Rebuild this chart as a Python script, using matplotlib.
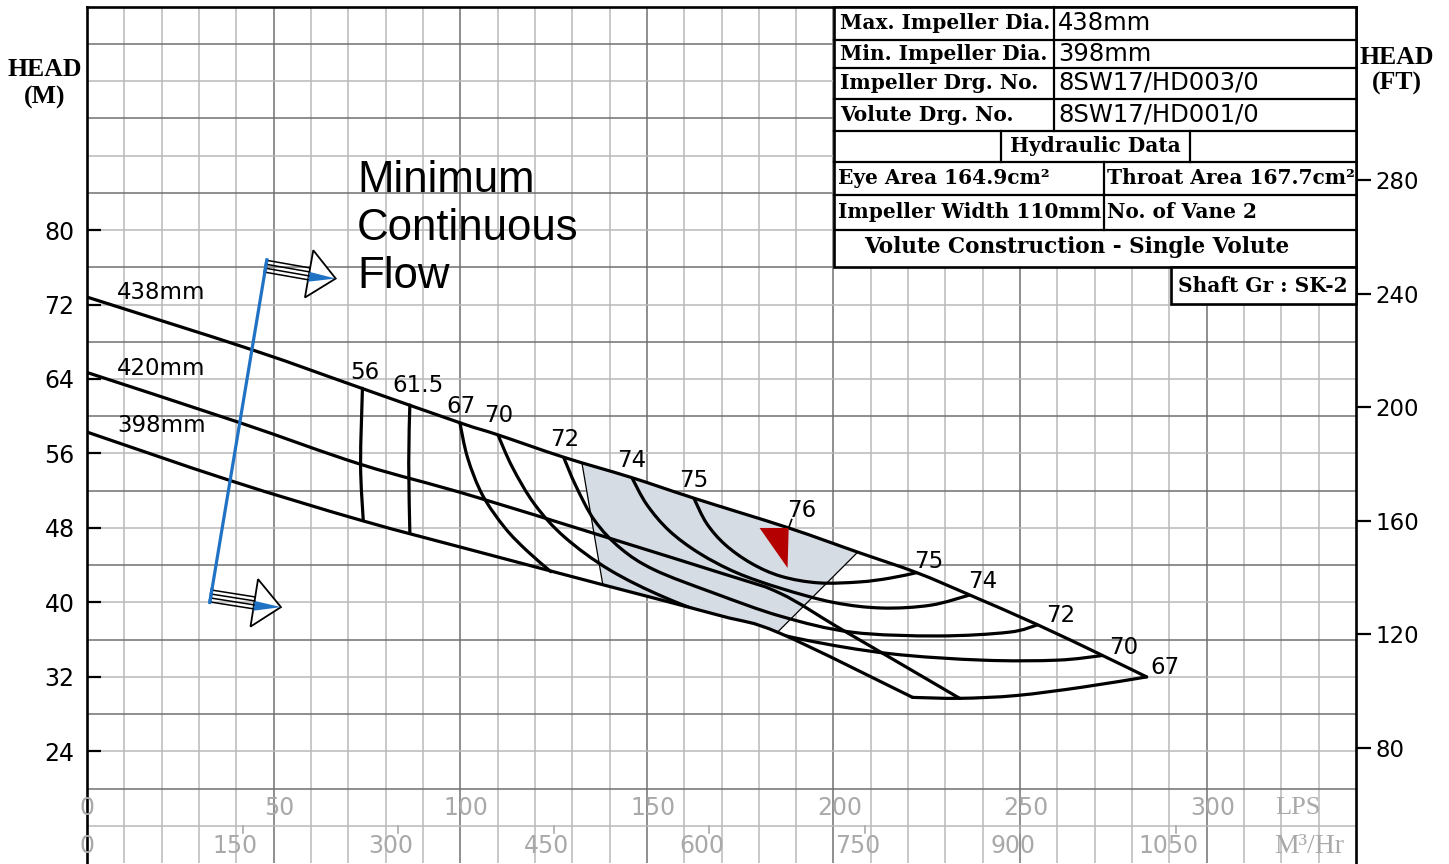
import numpy as np
import matplotlib
matplotlib.use("Agg")
import matplotlib.pyplot as plt
from matplotlib.path import Path
from matplotlib.patches import PathPatch, Polygon, Rectangle

# ---------------- data: flow in LPS, head in m ----------------
q_438 = [0, 44.5, 73.6, 99.9, 110.1, 127.7, 146.0, 162.6, 188.0, 206.5, 222.3, 236.5, 254.7, 272.1, 283.9]
h_438 = [72.8, 67.1, 63.0, 59.3, 58.0, 55.6, 53.4, 51.2, 48.0, 45.4, 43.2, 40.8, 37.6, 34.3, 32.0]
q_420 = [0, 41.0, 73.6, 105.2, 169.5, 185.6, 200.9, 214.2, 233.8]
h_420 = [64.7, 59.3, 54.8, 51.2, 43.2, 41.0, 37.4, 34.3, 29.7]
q_398 = [0, 38.3, 73.6, 105.2, 138.2, 169.5, 185.6, 221.2]
h_398 = [58.3, 53.1, 48.8, 45.4, 41.9, 38.6, 36.7, 29.8]

# iso-efficiency lines (%)
q_e56 = [73.8, 73.3, 74.0]
h_e56 = [63.0, 54.8, 48.9]
q_e615 = [86.5, 86.2, 86.5]
h_e615 = [61.2, 55.0, 47.5]
q_e67a = [99.9, 102, 106, 112, 118, 124.3]
h_e67a = [59.3, 55.5, 51.5, 48.0, 45.5, 43.3]
q_e67b = [221.2, 234, 249, 266.7, 283.9]
h_e67b = [29.8, 29.7, 30.0, 30.9, 32.0]
q_e70 = [110.1, 114, 120, 128, 140, 155, 172, 192, 215, 240, 260, 272.1]
h_e70 = [58.0, 54.5, 50.5, 47.0, 43.5, 40.5, 38.0, 36.0, 34.5, 33.8, 33.8, 34.3]
q_e72 = [127.7, 131, 136, 143, 152, 168, 186, 205, 228, 247, 254.7]
h_e72 = [55.6, 52.5, 48.8, 45.8, 43.5, 41.0, 38.5, 36.8, 36.4, 36.8, 37.6]
q_e74 = [146.0, 150, 156, 164, 174, 186, 200, 213, 226, 236.5]
h_e74 = [53.4, 50.5, 47.7, 45.3, 43.2, 41.5, 40.0, 39.4, 39.7, 40.8]
q_e75 = [162.6, 166, 171, 178, 186, 196, 207, 215, 222.3]
h_e75 = [51.2, 48.5, 46.2, 44.2, 42.8, 42.1, 42.2, 42.6, 43.2]

# best-efficiency zone (shaded) and BEP marker
shade_q = [132.6, 146.0, 162.6, 188.0, 206.5, 185.0, 169.5, 138.2]
shade_h = [55.0, 53.4, 51.2, 48.0, 45.4, 36.8, 38.6, 41.9]
bep_q = [180.2, 188.0, 187.7]
bep_h = [48.0, 48.0, 43.7]

# minimum continuous flow line
mcf_q = [32.9, 48.2]
mcf_h = [40.0, 76.8]

# labels
dia_labels = ["438mm", "420mm", "398mm"]
dia_label_pos = [(8.0, 73.3), (8.0, 65.1), (8.0, 59.0)]
eff_labels = ["56", "61.5", "67", "70", "72", "74", "75", "76", "75", "74", "72", "70", "67"]
eff_label_pos = [(74.4, 64.7), (88.6, 63.3), (100.2, 61.0), (110.3, 60.1), (128.0, 57.5),
                 (146.0, 55.2), (162.6, 53.1), (191.5, 49.9), (225.5, 44.4), (240.0, 42.3),
                 (260.8, 38.6), (277.7, 35.2), (288.9, 33.0)]
lps_ticks = [0, 50, 100, 150, 200, 250, 300]
m3h_ticks = [0, 150, 300, 450, 600, 750, 900, 1050]
left_ticks = [24, 32, 40, 48, 56, 64, 72, 80]
right_ticks = [80, 120, 160, 200, 240, 280]

table_rows = [("Max. Impeller Dia.", "438mm"),
              ("Min. Impeller Dia.", "398mm"),
              ("Impeller Drg. No.", "8SW17/HD003/0"),
              ("Volute Drg. No.", "8SW17/HD001/0")]
hyd_title = "Hydraulic Data"
hyd_cells = [("Eye Area 164.9cm²", "Throat Area 167.7cm²"),
             ("Impeller Width 110mm", "No. of Vane 2")]
volute_text = "Volute Construction - Single Volute"
shaft_text = "Shaft Gr : SK-2"

# ---------------- helpers ----------------
def bez_path(q, h, start_code=Path.MOVETO):
    P = np.column_stack([q, h]).astype(float)
    n = len(P)
    verts = [P[0]]
    codes = [start_code]
    for i in range(n - 1):
        p0 = P[i - 1] if i > 0 else P[i]
        p1, p2 = P[i], P[i + 1]
        p3 = P[i + 2] if i + 2 < n else P[i + 1]
        verts += [p1 + (p2 - p0) / 6.0, p2 - (p3 - p1) / 6.0, p2]
        codes += [Path.CURVE4] * 3
    return verts, codes

W, H = 1449, 864
fig = plt.figure(figsize=(W / 100, H / 100), dpi=100)
ax = fig.add_axes([87 / W, 1 - 863.1 / H, (1356 - 87) / W, (863.1 - 6.6) / H])
ax.set_xlim(0, 340)
ax.set_ylim(12, 104)

# grid
minor_c, major_c = "#b9b9b9", "#707070"
for q in np.arange(10, 340, 10):
    ax.axvline(q, color=major_c if q % 50 == 0 else minor_c, lw=1.1, zorder=1)
for h in np.arange(16, 104, 4):
    ax.axhline(h, color=major_c if (h - 20) % 8 == 0 else minor_c, lw=1.1, zorder=1)

# operating region (for clipping iso-efficiency lines)
v1, c1 = bez_path(q_438, h_438)
v2, c2 = bez_path(q_e67b[::-1], h_e67b[::-1], Path.LINETO)
v3, c3 = bez_path(q_398[::-1], h_398[::-1], Path.LINETO)
region = Path(v1 + v2 + v3 + [v1[0]], c1 + c2 + c3 + [Path.CLOSEPOLY])
clip_patch = PathPatch(region, transform=ax.transData)

# shaded zone
ax.add_patch(Polygon(np.column_stack([shade_q, shade_h]), closed=True,
                     fc="#d5dce4", ec="none", zorder=2))
ax.plot([shade_q[0], shade_q[-1]], [shade_h[0], shade_h[-1]], color="k", lw=0.9, zorder=3)
ax.plot([shade_q[4], shade_q[5]], [shade_h[4], shade_h[5]], color="k", lw=0.9, zorder=3)

LW = 2.3
for q, h in [(q_438, h_438), (q_420, h_420), (q_398, h_398),
             (q_e56, h_e56), (q_e615, h_e615), (q_e67a, h_e67a), (q_e67b, h_e67b)]:
    v, c = bez_path(q, h)
    ax.add_patch(PathPatch(Path(v, c), fill=False, ec="k", lw=LW, zorder=4, capstyle="round"))

for q, h in [(q_e70, h_e70), (q_e72, h_e72), (q_e74, h_e74), (q_e75, h_e75)]:
    v, c = bez_path(q, h)
    pp = PathPatch(Path(v, c), fill=False, ec="k", lw=LW, zorder=4, capstyle="round")
    ax.add_patch(pp)
    pp.set_clip_path(clip_patch)

# BEP marker
ax.add_patch(Polygon(np.column_stack([bep_q, bep_h]), closed=True, fc="#b40000", ec="none", zorder=5))
ax.plot([bep_q[1], bep_q[1] + 0.8], [bep_h[1], bep_h[1] + 0.9], color="k", lw=1.2, zorder=5)

# labels on the chart
for s, (x, y) in zip(dia_labels, dia_label_pos):
    ax.text(x, y, s, fontsize=16.5, family="DejaVu Sans", ha="left", va="center", zorder=6)
for s, (x, y) in zip(eff_labels, eff_label_pos):
    ax.text(x, y, s, fontsize=16.5, family="DejaVu Sans", ha="center", va="center", zorder=6)

# min continuous flow line
ax.plot(mcf_q, mcf_h, color="#1f72c4", lw=2.3, zorder=6, solid_capstyle="butt")

# bottom scales (inside the frame)
gray = "#a9a9a9"
for v in lps_ticks:
    ax.text(v + (1.6 if v else 0), 17.9, str(v), fontsize=17, color=gray, ha="center", va="center", zorder=6)
for v in m3h_ticks:
    q = v / 3.6
    ax.text(q - (1.9 if v else 0), 13.8, str(v), fontsize=17, color=gray, ha="center", va="center", zorder=6)
    if v:
        ax.plot([q, q], [16, 15.2], color=gray, lw=1.2, zorder=6)
ax.text(324.5, 17.9, "LPS", fontsize=19, color=gray, family="Liberation Serif", ha="center", va="center")
ax.text(327.5, 13.8, "M³/Hr", fontsize=20, color=gray, family="Liberation Serif", ha="center", va="center")

# axes styling
ax.set_xticks([])
ax.set_yticks(left_ticks)
ax.tick_params(axis="y", direction="in", length=10, width=1.6, labelsize=17, pad=9, colors="k")
for s in ["left", "top", "right"]:
    ax.spines[s].set_linewidth(1.9)
ax.spines["bottom"].set_visible(False)

ax2 = ax.twinx()
ax2.set_ylim(12 / 0.3048, 104 / 0.3048)
ax2.set_yticks(right_ticks)
ax2.tick_params(axis="y", direction="out", length=11, width=1.6, labelsize=16.5, pad=3)
for s in ax2.spines.values():
    s.set_visible(False)

# ---------------- overlay in image pixel coords ----------------
ov = fig.add_axes([0, 0, 1, 1], zorder=10)
ov.set_xlim(0, W)
ov.set_ylim(H, 0)
ov.axis("off")

def to_px(q, h):
    x, y = ax.transData.transform((q, h))
    return x, H - y

def mcf_arrow(p, ang, side):
    t = np.deg2rad(ang)
    d = np.array([np.cos(t), np.sin(t)])
    n = np.array([-np.sin(t), np.cos(t)])
    c = np.array(p) + n * 6.5 * side
    L, HL, HW = 44, 27, 24
    for off in (-6, -2, 2, 6):
        a = c + n * off
        b = a + d * L
        ov.plot([a[0], b[0]], [a[1], b[1]], color="k", lw=1.1)
    cap0, cap1 = c - n * 6.5, c + n * 6.5
    ov.plot([cap0[0], cap1[0]], [cap0[1], cap1[1]], color="#1f72c4", lw=2.3)
    base = c + d * L
    tip = c + d * (L + HL)
    ov.add_patch(Polygon([base - n * HW, tip, base + n * HW], closed=True, fc="white", ec="k", lw=1.3))
    ov.add_patch(Polygon([base - n * 2, tip, base + n * 8], closed=True, fc="#1f72c4", ec="none"))

mcf_arrow(to_px(mcf_q[1], mcf_h[1]), 10, +1)
mcf_arrow(to_px(mcf_q[0], mcf_h[0]), 9, -1)

for i, s in enumerate(["Minimum", "Continuous", "Flow"]):
    ov.text(357, 181 + i * 47.5, s, fontsize=31.5, family="Liberation Sans", ha="left", va="center")

# head labels
hfont = dict(family="Liberation Serif", weight="bold", fontsize=18.5, ha="center", va="center")
ov.text(45, 70, "HEAD", **hfont)
ov.text(45, 97, "(M)", **hfont)
ov.text(1397, 57, "HEAD", **hfont)
ov.text(1397, 83, "(FT)", **hfont)

# data table
tx0, tx1 = 834, 1356
ov.add_patch(Rectangle((tx0, 7), tx1 - tx0, 260, fc="white", ec="k", lw=1.9, zorder=1))
ov.add_patch(Rectangle((1171, 267), tx1 - 1171, 37, fc="white", ec="k", lw=1.9, zorder=1))
lk = dict(color="k", lw=1.6, zorder=2)
for y in [40, 68, 99, 131, 162, 195, 230]:
    ov.plot([tx0, tx1], [y, y], **lk)
ov.plot([1054, 1054], [7, 131], **lk)
ov.plot([1001, 1001], [131, 162], **lk)
ov.plot([1190, 1190], [131, 162], **lk)
ov.plot([1104, 1104], [162, 230], **lk)

tfont = dict(family="DejaVu Serif", weight="bold", fontsize=14.5, va="center", zorder=3)
tfont_v = dict(family="DejaVu Serif", weight="bold", fontsize=15.5, va="center", zorder=3)
vfont = dict(family="DejaVu Sans", fontsize=17.5, va="center", zorder=3)
for (lab, val), y in zip(table_rows, [23, 54, 83, 115]):
    ov.text(840, y, lab, ha="left", **tfont)
    ov.text(1058, y, val, ha="left", **vfont)
ov.text(1095, 146, hyd_title, ha="center", **tfont)
for (a, b), y in zip(hyd_cells, [178, 212]):
    ov.text(838, y, a, ha="left", **tfont)
    ov.text(1107, y, b, ha="left", **tfont)
ov.text(1077, 247, volute_text, ha="center", **tfont_v)
ov.text(1263, 286, shaft_text, ha="center", **tfont)

fig.savefig("out.png", dpi=100)
